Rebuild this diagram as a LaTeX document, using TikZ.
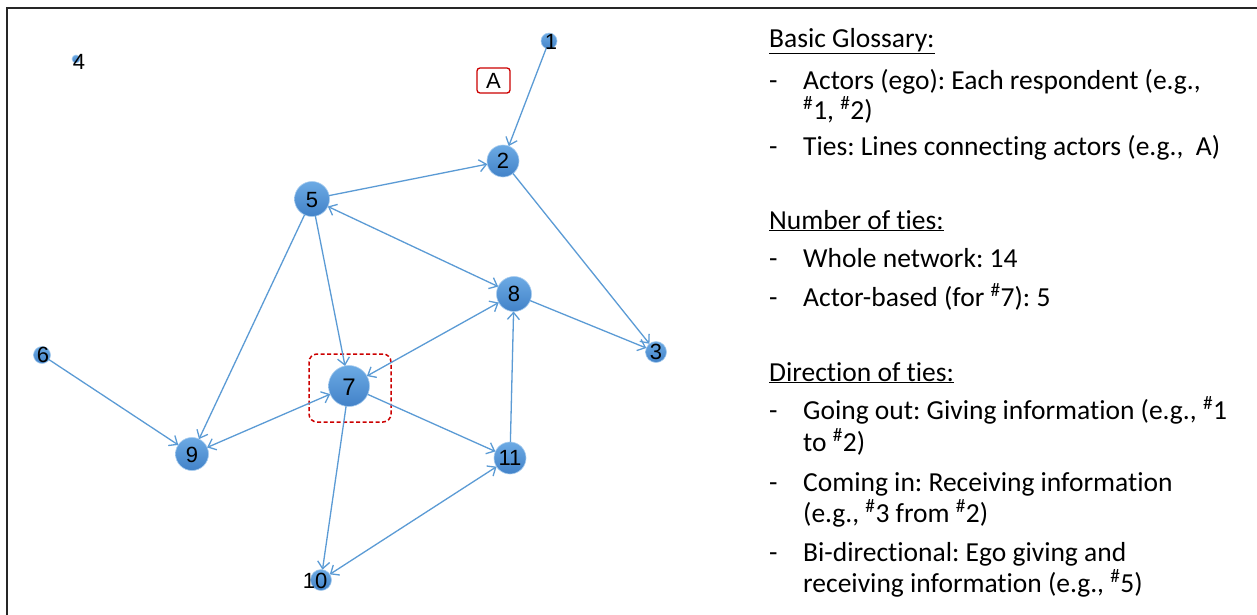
\documentclass[tikz,border=0pt]{standalone}
\usepackage{fontspec}
\setmainfont{Carlito}[Ligatures=NoCommon]
\newfontfamily\arialf{Liberation Sans}
\usetikzlibrary{arrows.meta}
\definecolor{edgeblue}{RGB}{91,155,213}
\definecolor{nodetop}{RGB}{108,170,228}
\definecolor{nodebot}{RGB}{66,130,200}
\definecolor{redbox}{RGB}{204,0,0}
\tikzset{
  nd/.style={circle, inner sep=0pt, outer sep=0pt, top color=nodetop, bottom color=nodebot, draw=nodetop!60!white, line width=0.6pt},
  lbl/.style={inner sep=0pt, font=\arialf\fontsize{22}{22}\selectfont, text=black},
  edge/.style={draw=edgeblue, line width=1.3pt},
  tip/.tip={Straight Barb[length=7pt,width=12pt,line width=1.3pt]},
  gl/.style={anchor=base west, inner sep=0pt, font=\fontsize{27.5}{30}\selectfont},
  egobox/.style={draw=redbox, dashed, dash pattern=on 4pt off 2.5pt, line width=1.5pt, rounded corners=8pt, inner sep=0pt},
  abox/.style={draw=redbox, line width=1.3pt, rounded corners=3pt, inner sep=0pt, font=\arialf\fontsize{22}{22}\selectfont}
}
\newcommand{\hs}{\textsuperscript{\#}}
\frenchspacing
\begin{document}
\begin{tikzpicture}[x=1pt,y=-1pt]
\useasboundingbox (0,0) rectangle (1257,614);
\fill[white] (0,0) rectangle (1257,614);
% frame (partially cropped)
\draw[line width=2pt, black!85] (7,620) -- (7,8) -- (1262,8);

% nodes
\node[nd, minimum size=8]  (n4)  at (76,59)   {};
\node[nd, minimum size=16] (n1)  at (549,41)  {};
\node[nd, minimum size=32] (n2)  at (503,161) {};
\node[nd, minimum size=21] (n3)  at (656,352) {};
\node[nd, minimum size=35] (n5)  at (312,199) {};
\node[nd, minimum size=17] (n6)  at (42,355)  {};
\node[nd, minimum size=41] (n7)  at (349,386) {};
\node[nd, minimum size=35] (n8)  at (514,294) {};
\node[nd, minimum size=33] (n9)  at (192,454) {};
\node[nd, minimum size=21] (n10) at (321,580) {};
\node[nd, minimum size=32] (n11) at (510,458) {};

% labels
\node[lbl] (l4)  at (79,62)   {4};
\node[lbl] (l1)  at (551,42)  {1};
\node[lbl] (l2)  at (503,161) {2};
\node[lbl] (l3)  at (656,352) {3};
\node[lbl] (l5)  at (312,200) {5};
\node[lbl] (l6)  at (43,355)  {6};
\node[lbl, font=\arialf\fontsize{24}{24}\selectfont] (l7)  at (349,387) {7};
\node[lbl] (l8)  at (514,294) {8};
\node[lbl] (l9)  at (192,455) {9};
\node[lbl] (l10) at (315,581) {10};
\node[lbl] (l11) at (510,458) {11};

% highlight boxes
\node[egobox, minimum width=82, minimum height=68] (ego) at (350,388) {};
\node[abox, minimum width=33, minimum height=25] (A) at (493.5,80.5) {A};

% edges
\draw[edge,-tip] (n1) -- (n2);
\draw[edge,-tip] (n5) -- (n2);
\draw[edge,-tip] (n2) -- (n3);
\draw[edge,tip-tip] (n5) -- (n8);
\draw[edge,-tip] (n5) -- (n7);
\draw[edge,-tip] (n5) -- (n9);
\draw[edge,-tip] (n8) -- (n3);
\draw[edge,tip-tip] (n7) -- (n8);
\draw[edge,-tip] (n6) -- (n9);
\draw[edge,tip-tip] (n9) -- (n7);
\draw[edge,-tip] (n7) -- (n11);
\draw[edge,-tip] (n7) -- (n10);
\draw[edge,-tip] (n11) -- (n8);
\draw[edge,tip-tip] (n10) -- (n11);

% glossary
\node[gl] (h1) at (769,47) {\underline{Basic Glossary:}};
\node[gl] (d1) at (769,89) {-};
\node[gl] (t1) at (803,89) {Actors (ego): Each respondent (e.g.,};
\node[gl] (t1b) at (803,119) {\hs1, \hs2)};
\node[gl] (d2) at (769,155) {-};
\node[gl] (t2) at (803,155) {Ties: Lines connecting actors (e.g.,\ \ A)};

\node[gl] (h2) at (769,229) {\underline{Number of ties:}};
\node[gl] (d3) at (769,267) {-};
\node[gl] (t3) at (803,267) {Whole network: 14};
\node[gl] (d4) at (769,306) {-};
\node[gl] (t4) at (803,306) {Actor-based (for \hs7): 5};

\node[gl] (h3) at (769,381) {\underline{Direction of ties:}};
\node[gl] (d5) at (769,419) {-};
\node[gl] (t5) at (803,419) {Going out: Giving information (e.g., \hs1};
\node[gl] (t5b) at (803,451) {to \hs2)};
\node[gl] (d6) at (769,491) {-};
\node[gl] (t6) at (803,491) {Coming in: Receiving information};
\node[gl] (t6b) at (803,522) {(e.g., \hs3 from \hs2)};
\node[gl] (d7) at (769,561) {-};
\node[gl] (t7) at (803,561) {Bi-directional: Ego giving and};
\node[gl] (t7b) at (803,592) {receiving information (e.g., \hs5)};
\end{tikzpicture}
\end{document}
